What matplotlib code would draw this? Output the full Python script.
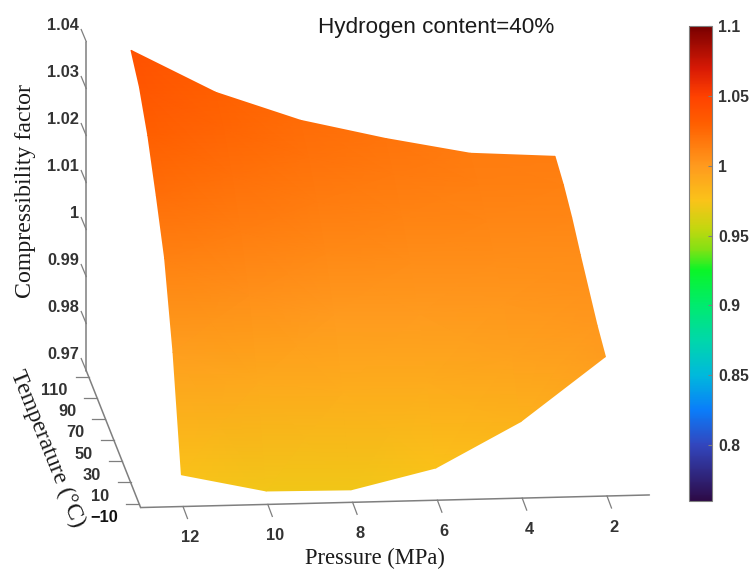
import numpy as np
import matplotlib
matplotlib.use("Agg")
import matplotlib.pyplot as plt
from matplotlib.colors import LinearSegmentedColormap, Normalize

# Data
pressure = [12, 10, 8, 6, 4, 2]
temperature = [-10, 10, 30, 50, 70, 90, 110]
z_factor = [
    [0.9759, 0.9720, 0.9718, 0.9760, 0.9854, 0.9988],
    [0.9975, 0.9907, 0.9882, 0.9897, 0.9947, 1.0010],
    [1.0130, 1.0047, 1.0002, 0.9997, 1.0017, 1.0040],
    [1.0219, 1.0137, 1.0087, 1.0062, 1.0062, 1.0070],
    [1.0301, 1.0211, 1.0151, 1.0116, 1.0101, 1.0103],
    [1.0359, 1.0266, 1.0201, 1.0161, 1.0136, 1.0128],
    [1.0392, 1.0298, 1.0234, 1.0191, 1.0155, 1.0144],
]
z_ticks = [0.97, 0.98, 0.99, 1, 1.01, 1.02, 1.03, 1.04]
temp_ticks = [-10, 10, 30, 50, 70, 90, 110]
press_ticks = [12, 10, 8, 6, 4, 2]
cbar_ticks = [0.8, 0.85, 0.9, 0.95, 1, 1.05, 1.1]

# Colormap stops, from the colour bar
cmap_values = [0.76, 0.80, 0.825, 0.85, 0.875, 0.90, 0.925, 0.94, 0.955, 0.975, 1.0, 1.03, 1.05, 1.07, 1.1]
cmap_colors = ["#2d0a46", "#3246be", "#0a7dfa", "#00b9dc", "#00d7aa", "#00eb6e", "#0af528", "#82e114",
               "#c3d70f", "#fac319", "#ff9a1e", "#ff5f00", "#ff4100", "#d71905", "#780000"]

VMIN, VMAX = 0.76, 1.1
P_MIN, P_MAX = 1, 13
T_MIN, T_MAX = -13.8, 115.7
AXIS = "#7f7f7f"
TICK = "#333333"


# Fixed oblique view of the 3D box, result is in figure pixels
def project(p, t, z):
    p, t, z = np.asarray(p, float), np.asarray(t, float), np.asarray(z, float)
    x = 607 + (2 - p) * 42.4 - (t - T_MIN) * 0.42
    y = 496 + (p - 2) * 1.05 - (t - T_MIN) * 1.058 - (z - z_ticks[0]) * 4700
    return x, y


def axis_line(p, t, z):
    x, y = project(p, t, z)
    ax.plot(x, y, color=AXIS, lw=1.1, solid_capstyle="round")


fig = plt.figure(figsize=(7.5, 5.7), dpi=100)
ax = fig.add_axes([0, 0, 1, 1])
ax.set_xlim(0, 750)
ax.set_ylim(570, 0)
ax.axis("off")

cmap = LinearSegmentedColormap.from_list(
    "bar", [((v - VMIN) / (VMAX - VMIN), c) for v, c in zip(cmap_values, cmap_colors)], N=512)
norm = Normalize(VMIN, VMAX)

# Surface
P, T = np.meshgrid(pressure, temperature)
Z = np.array(z_factor)
X, Y = project(P, T, Z)
mesh = ax.pcolormesh(X, Y, Z, cmap=cmap, norm=norm, shading="gouraud")

z0 = z_ticks[0]

# Box edges
axis_line([P_MAX, P_MAX], [T_MAX, T_MAX], [z0, z_ticks[-1]])
axis_line([P_MAX, P_MAX], [T_MIN, T_MAX], [z0, z0])
axis_line([P_MAX, P_MIN], [T_MIN, T_MIN], [z0, z0])

# Compressibility ticks
for v in z_ticks:
    x, y = project(P_MAX, T_MAX, v)
    ax.plot([x, x - 5], [y, y - 12], color=AXIS, lw=0.9)
    ax.text(x - 7, y - 16, "%g" % v, ha="right", va="center", fontsize=11.8,
            family="Liberation Sans", weight="bold", color=TICK)

# Temperature ticks
for v in temp_ticks:
    x, y = project(P_MAX, v, z0)
    ax.plot([x - 13, x], [y, y], color=AXIS, lw=0.9)
    label = "\u2212" + str(abs(v)) if v < 0 else str(v)
    ax.text(x - 21, y + 14, label, ha="right", va="center", fontsize=11.8,
            family="Liberation Sans", weight="bold", color="#111111" if v < 0 else TICK)

# Pressure ticks
for v in press_ticks:
    x, y = project(v, T_MIN, z0)
    ax.plot([x, x + 4.5], [y, y + 12], color=AXIS, lw=0.9)
    ax.text(x + 7, y + 31, str(v), ha="center", va="center", fontsize=11.8,
            family="Liberation Sans", weight="bold", color=TICK)

# Titles
ax.text(436, 28, "Hydrogen content=40%", ha="center", va="center", fontsize=16.2,
        family="Liberation Sans", color="#1a1a1a")
ax.text(26, 191, "Compressibility factor", rotation=90, ha="center", va="center", fontsize=17.2,
        family="Liberation Serif", color="#1a1a1a")
ax.text(375, 558, "Pressure (MPa)", ha="center", va="center", fontsize=16.3,
        family="Liberation Serif", color="#1a1a1a")
ax.text(47, 449, "Temperature (\u00b0C)", rotation=-68, ha="center", va="center", rotation_mode="anchor",
        fontsize=17.2, family="Liberation Serif", color="#1a1a1a")

# Colour bar
cax = fig.add_axes([689 / 750, 1 - 501 / 570, 23 / 750, 475 / 570])
cb = fig.colorbar(mesh, cax=cax)
cb.set_ticks(cbar_ticks)
cb.set_ticklabels(["%g" % v for v in cbar_ticks])
cb.ax.tick_params(direction="in", length=3, width=0.8, color=AXIS, pad=4.5)
cb.outline.set_edgecolor(AXIS)
cb.outline.set_linewidth(0.8)
for lab in cb.ax.get_yticklabels():
    lab.set_family("Liberation Sans")
    lab.set_weight("bold")
    lab.set_fontsize(11.3)
    lab.set_color(TICK)

fig.savefig("out.png", dpi=100)
